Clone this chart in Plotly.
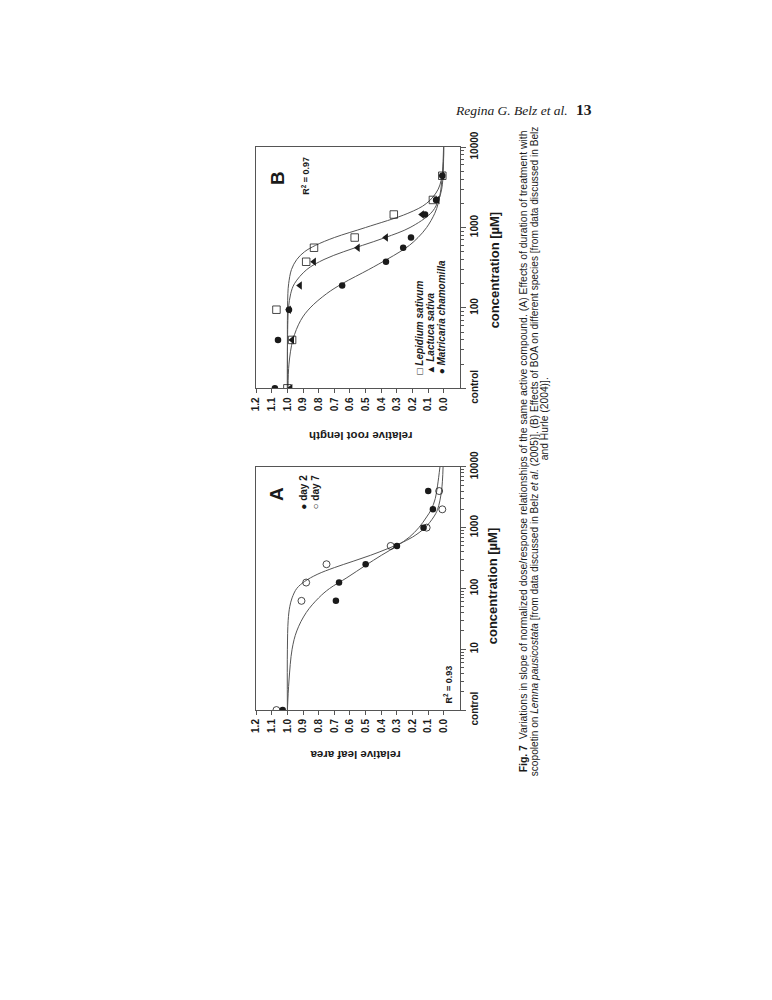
import plotly.graph_objects as go

# ---- panel A: scopoletin on Lemna (control plotted at conc = 1)
conc_a = [1, 62.5, 125, 250, 500, 1000, 2000, 4000]
day2 = [1.03, 0.69, 0.67, 0.50, 0.30, 0.13, 0.07, 0.10]
day7 = [1.07, 0.91, 0.88, 0.75, 0.34, 0.11, 0.01, 0.03]

fit_conc_day2 = [1, 3, 10, 20, 40, 70, 100, 150, 240, 350, 500, 700, 1000, 1500, 2000, 3000, 5000, 10000]
fit_day2 = [1.0, 0.99, 0.97, 0.94, 0.88, 0.80, 0.73, 0.62, 0.50, 0.40, 0.30, 0.22, 0.16, 0.11, 0.08, 0.055, 0.04, 0.025]
fit_conc_day7 = [1, 10, 30, 50, 70, 100, 130, 170, 220, 280, 350, 450, 550, 700, 1000, 1500, 2000, 4000, 10000]
fit_day7 = [1.0, 1.0, 0.995, 0.985, 0.97, 0.94, 0.89, 0.81, 0.70, 0.58, 0.47, 0.36, 0.28, 0.20, 0.12, 0.065, 0.04, 0.015, 0.005]

# ---- panel B: BOA on three species (control plotted at conc = 10)
lep_conc = [10, 40, 95, 375, 560, 750, 1450, 2200, 4400]
lepidium = [1.0, 0.97, 1.07, 0.88, 0.83, 0.57, 0.32, 0.07, 0.01]
lac_conc = [10, 40, 95, 190, 375, 560, 750, 1450, 2200, 4400]
lactuca = [0.98, 0.97, 0.99, 0.92, 0.83, 0.55, 0.37, 0.14, 0.04, 0.01]
mat_conc = [10, 40, 95, 190, 375, 560, 750, 1450, 2200, 4400]
matricaria = [1.08, 1.06, 0.99, 0.65, 0.37, 0.26, 0.21, 0.12, 0.05, 0.01]

fit_conc_b = [10, 20, 40, 70, 100, 150, 200, 300, 400, 500, 600, 750, 1000, 1500, 2000, 3000, 5000, 10000]
fit_lep = [1.0, 1.0, 1.0, 1.0, 0.999, 0.997, 0.992, 0.974, 0.94, 0.89, 0.82, 0.70, 0.50, 0.23, 0.11, 0.036, 0.008, 0.001]
fit_lac = [1.0, 1.0, 0.999, 0.997, 0.993, 0.979, 0.955, 0.876, 0.766, 0.64, 0.52, 0.374, 0.216, 0.084, 0.042, 0.014, 0.004, 0.001]
fit_mat = [0.996, 0.99, 0.965, 0.915, 0.855, 0.75, 0.65, 0.48, 0.365, 0.28, 0.22, 0.165, 0.11, 0.058, 0.036, 0.019, 0.008, 0.002]

val_ticks = [0.0, 0.1, 0.2, 0.3, 0.4, 0.5, 0.6, 0.7, 0.8, 0.9, 1.0, 1.1, 1.2]
conc_ticks_a = [1, 10, 100, 1000, 10000]
conc_labels_a = ["control", "10", "100", "1000", "10000"]
conc_ticks_b = [10, 100, 1000, 10000]
conc_labels_b = ["control", "100", "1000", "10000"]

W, H = 772, 1000
OFF = 8  # default body margin of the page
FONT = "Liberation Sans, Arial, DejaVu Sans"
INK = "#1a1a1a"
LINE = "#555555"


def px(x):
    return (x - OFF) / W


def py(y):
    return 1 - (y - OFF) / H


fig = go.Figure()

# the page is printed rotated: concentration runs upward, response runs right-to-left
fig.add_trace(go.Scatter(x=fit_day2, y=fit_conc_day2, mode="lines", line=dict(color=LINE, width=1, shape="spline"),
                         xaxis="x", yaxis="y"))
fig.add_trace(go.Scatter(x=fit_day7, y=fit_conc_day7, mode="lines", line=dict(color=LINE, width=1, shape="spline"),
                         xaxis="x", yaxis="y"))
fig.add_trace(go.Scatter(x=day2, y=conc_a, mode="markers", xaxis="x", yaxis="y",
                         marker=dict(symbol="circle", size=6.5, color=INK, line=dict(width=0))))
fig.add_trace(go.Scatter(x=day7, y=conc_a, mode="markers", xaxis="x", yaxis="y",
                         marker=dict(symbol="circle-open", size=7, color=INK, line=dict(width=0.8))))

for fx in (fit_lep, fit_lac, fit_mat):
    fig.add_trace(go.Scatter(x=fx, y=fit_conc_b, mode="lines", line=dict(color=LINE, width=1, shape="spline"),
                             xaxis="x2", yaxis="y2"))
fig.add_trace(go.Scatter(x=lepidium, y=lep_conc, mode="markers", xaxis="x2", yaxis="y2",
                         marker=dict(symbol="square-open", size=7.5, color=INK, line=dict(width=0.8))))
fig.add_trace(go.Scatter(x=lactuca, y=lac_conc, mode="markers", xaxis="x2", yaxis="y2",
                         marker=dict(symbol="triangle-left", size=7.5, color=INK, line=dict(width=0))))
fig.add_trace(go.Scatter(x=matricaria, y=mat_conc, mode="markers", xaxis="x2", yaxis="y2",
                         marker=dict(symbol="circle", size=6.5, color=INK, line=dict(width=0))))

tickfont = dict(family=FONT, size=10, color=INK, weight="bold")
minor_a = [k * 10 ** d for d in range(0, 4) for k in range(2, 10)]
minor_b = [k * 10 ** d for d in range(1, 4) for k in range(2, 10)]

xdom = [px(252), px(457)]
val_axis = dict(range=[1.2, -0.1], tickvals=val_ticks, ticktext=["%.1f" % v for v in val_ticks],
                tickangle=-90, ticks="outside", ticklen=4, tickwidth=1, tickcolor=LINE,
                showline=True, linecolor=LINE, linewidth=1, mirror=True, showgrid=False, zeroline=False,
                tickfont=tickfont, domain=xdom)
fig.update_layout(
    width=W, height=H, margin=dict(l=0, r=0, t=0, b=0),
    paper_bgcolor="white", plot_bgcolor="white", showlegend=False,
    xaxis=dict(val_axis, anchor="y"),
    xaxis2=dict(val_axis, anchor="y2"),
    yaxis=dict(type="log", range=[0, 4], side="right", anchor="x", domain=[py(716), py(465)],
               tickvals=conc_ticks_a, ticktext=conc_labels_a, tickangle=-90,
               ticks="outside", ticklen=5, tickwidth=1, tickcolor=LINE,
               minor=dict(tickvals=minor_a, ticks="outside", ticklen=3, tickcolor=LINE),
               showline=True, linecolor=LINE, linewidth=1, mirror=True, showgrid=False,
               tickfont=tickfont),
    yaxis2=dict(type="log", range=[1, 4], side="right", anchor="x2", domain=[py(384), py(135)],
                tickvals=conc_ticks_b, ticktext=conc_labels_b, tickangle=-90,
                ticks="outside", ticklen=5, tickwidth=1, tickcolor=LINE,
                minor=dict(tickvals=minor_b, ticks="outside", ticklen=3, tickcolor=LINE),
                showline=True, linecolor=LINE, linewidth=1, mirror=True, showgrid=False,
                tickfont=tickfont),
)


def note(text, x, y, size, angle=-90, xanchor="center", yanchor="middle", family=FONT, weight="bold", color=INK):
    fig.add_annotation(text=text, x=px(x), y=py(y), xref="paper", yref="paper", showarrow=False,
                       textangle=angle, xanchor=xanchor, yanchor=yanchor,
                       font=dict(family=family, size=size, color=color, weight=weight))


# panel texts
note("A", 273, 493, 19)
note("B", 273, 167, 19)
note("● day 2", 300, 511, 10, yanchor="bottom")
note("○ day 7", 312, 511, 10, yanchor="bottom")
note("R<sup>2</sup> = 0.93", 445, 690, 9)
note("R<sup>2</sup> = 0.97", 302, 165, 9)
note("□ <i>Lepidium sativum</i>", 417, 372, 10, yanchor="bottom")
note("▲ <i>Lactuca sativa</i>", 428, 372, 10, yanchor="bottom")
note("● <i>Matricaria chamomilla</i>", 439, 372, 10, yanchor="bottom")

# axis titles
note("relative leaf area", 352, 763, 11.5, angle=180)
note("relative root length", 357, 433, 11.5, angle=180)
note("concentration [µM]", 490, 588, 13)
note("concentration [µM]", 492, 262, 13)

# caption
cap1 = ("<b>Fig. 7</b>  Variations in slope of normalized dose/response relationships of the same active "
        "compound. (A) Effects of duration of treatment with")
cap2 = ("scopoletin on <i>Lemna pausicostata</i> [from data discussed in Belz <i>et al.</i> (2005)]. "
        "(B) Effects of BOA on different species [from data discussed in Belz")
cap3 = "and Hurle (2004)]."
note(cap1, 521, 449, 10.45, weight="normal")
note(cap2, 532, 449, 10.15, weight="normal")
note(cap3, 543, 415, 10.3, weight="normal")

# running head
note("<i>Regina G. Belz et al.</i>", 509, 97, 13.5, angle=0, family="Liberation Serif, DejaVu Serif", weight="normal")
note("13", 582, 96, 15.5, angle=0, family="Liberation Serif, DejaVu Serif")

fig.write_html("out.html")
